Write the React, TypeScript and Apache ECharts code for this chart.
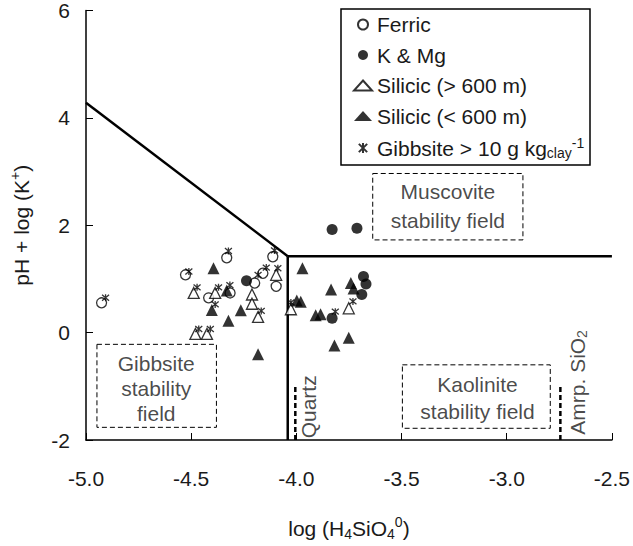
import React, { useEffect, useRef } from "react";
import * as echarts from "echarts";

const ferric: number[][] = [
  [-4.926, 0.556], [-4.527, 1.077], [-4.331, 1.394], [-4.112, 1.413], [-4.417, 0.648],
  [-4.315, 0.739], [-4.159, 1.106], [-4.198, 0.923], [-4.096, 0.862],
];
const kMg: number[][] = [
  [-4.237, 0.967], [-3.83, 1.921], [-3.712, 1.945], [-3.681, 1.046], [-3.669, 0.905],
  [-3.689, 0.71], [-3.83, 0.27],
];
const silicicHigh: number[][] = [
  [-4.488, 0.739], [-4.386, 0.739], [-4.48, -0.024], [-4.425, -0.024], [-4.211, 0.71],
  [-4.211, 0.538], [-4.182, 0.294], [-4.096, 1.077], [-4.026, 0.435], [-3.751, 0.453],
];
const silicicLow: number[][] = [
  [-4.394, 1.198], [-4.331, 0.783], [-4.402, 0.422], [-4.323, 0.22], [-4.264, 0.417],
  [-4.182, -0.404], [-3.971, 1.198], [-3.998, 0.6], [-3.979, 0.574], [-3.835, 0.802],
  [-3.741, 0.923], [-3.728, 0.82], [-3.908, 0.325], [-3.885, 0.343], [-3.819, -0.239],
  [-3.751, -0.097],
];
const gibbsite: number[][] = [
  [-4.907, 0.649], [-4.511, 1.138], [-4.472, 0.844], [-4.323, 1.52], [-4.104, 1.532],
  [-4.37, 0.844], [-4.316, 0.886], [-4.386, 0.526], [-4.464, 0.068], [-4.409, 0.068],
  [-4.143, 1.211], [-4.182, 1.077], [-4.088, 1.199], [-4.167, 0.404], [-4.026, 0.563],
  [-3.731, 0.582], [-3.815, 0.391],
];

// stability field boundaries
const gibbsiteMuscovite: number[][] = [[-5, 4.28], [-4.041, 1.424]];
const kaoliniteMuscovite: number[][] = [[-4.041, 1.424], [-2.5, 1.424]];
const gibbsiteKaolinite: number[][] = [[-4.041, 1.424], [-4.041, -2]];
const quartzLine: number[][] = [[-4.005, -2], [-4.005, -1.0]];
const amorphousLine: number[][] = [[-2.745, -2], [-2.745, -1.0]];

// dashed annotation boxes
const muscoviteBox: number[][] = [[-3.637, 2.964], [-2.923, 2.964], [-2.923, 1.727], [-3.637, 1.727], [-3.637, 2.964]];
const gibbsiteBox: number[][] = [[-4.948, -0.218], [-4.38, -0.218], [-4.38, -1.764], [-4.948, -1.764], [-4.948, -0.218]];
const kaoliniteBox: number[][] = [[-3.496, -0.6], [-2.793, -0.6], [-2.793, -1.782], [-3.496, -1.782], [-3.496, -0.6]];

const xTicks = [-5.0, -4.5, -4.0, -3.5, -3.0, -2.5];
const yTicks = [-2, 0, 2, 4, 6];

const FONT = "'Liberation Sans', Arial, sans-serif";
const FS = 21;
const SMALL = 14;
const INK = "#1a1a1a";
const STAR = "path://M0,0L10,10M10,0L0,10M5,-1L5,11";

export default function App() {
  const ref = useRef<HTMLDivElement>(null);
  useEffect(() => {
    if (!ref.current) return;
    const chart = echarts.init(ref.current, null, { renderer: "svg" });
    const lineSeries = (data: number[][], width: number, type: any) => ({
      type: "line",
      data,
      symbol: "none",
      silent: true,
      lineStyle: { color: "#000", width, type },
      z: 2,
    });
    const textSeries = (x: number, y: number, text: string, extra: any = {}) => ({
      type: "scatter",
      data: [[x, y]],
      symbolSize: 0,
      silent: true,
      label: {
        show: true,
        position: "inside",
        formatter: text,
        color: INK,
        fontSize: FS,
        fontFamily: FONT,
        lineHeight: 26,
        align: "center",
        verticalAlign: "middle",
        ...extra,
      },
      z: 3,
    });
    chart.setOption({
      animation: false,
      textStyle: { fontFamily: FONT },
      grid: { left: 86, right: 16, top: 10, bottom: 96 },
      graphic: [
        {
          type: "rect",
          shape: { x: 341, y: 9, width: 249, height: 156 },
          style: { fill: "#fff", stroke: "#000", lineWidth: 1.5 },
          z: 10,
        },
      ],
      legend: {
        orient: "vertical",
        left: 348,
        top: 9,
        itemGap: 9.5,
        itemWidth: 18,
        itemHeight: 10,
        z: 20,
        data: ["Ferric", "K & Mg", "Silicic (> 600 m)", "Silicic (< 600 m)", "Gibbsite"],
        formatter: (name: string) =>
          name === "Gibbsite" ? "{a|Gibbsite > 10 g kg}{sub|clay}{sup|-1}" : "{a|" + name + "}",
        textStyle: {
          fontFamily: FONT,
          rich: {
            a: { fontSize: FS, color: INK, fontFamily: FONT, lineHeight: 24 },
            sub: { fontSize: SMALL, color: INK, fontFamily: FONT, verticalAlign: "bottom", lineHeight: 14 },
            sup: { fontSize: SMALL, color: INK, fontFamily: FONT, verticalAlign: "top", lineHeight: 14 },
          },
        },
      },
      xAxis: {
        type: "value",
        min: -5,
        max: -2.5,
        interval: 0.5,
        name: "log (H{sub|4}SiO{sub|4}{sup|0})",
        nameLocation: "middle",
        nameGap: 75,
        nameTextStyle: {
          fontSize: FS,
          color: INK,
          fontFamily: FONT,
          rich: {
            sub: { fontSize: SMALL, color: INK, fontFamily: FONT, padding: [12, 0, 0, 0] },
            sup: { fontSize: SMALL, color: INK, fontFamily: FONT, padding: [0, 0, 12, 0] },
          },
        },
        axisLine: { onZero: false, lineStyle: { color: "#000", width: 1.5 } },
        axisTick: { inside: true, length: 7, lineStyle: { color: "#000", width: 1 } },
        axisLabel: {
          fontSize: FS,
          color: INK,
          fontFamily: FONT,
          margin: 28,
          formatter: (v: number) => (xTicks.some((t) => Math.abs(t - v) < 1e-9) ? v.toFixed(1) : ""),
        },
        splitLine: { show: false },
      },
      yAxis: {
        type: "value",
        min: -2,
        max: 6,
        interval: 2,
        name: "pH + log (K{sup|+})",
        nameLocation: "middle",
        nameRotate: 90,
        nameGap: 52,
        nameTextStyle: {
          fontSize: FS,
          color: INK,
          fontFamily: FONT,
          rich: {
            sup: { fontSize: SMALL, color: INK, fontFamily: FONT, padding: [0, 0, 12, 0] },
          },
        },
        axisLine: { onZero: false, lineStyle: { color: "#000", width: 1.5 } },
        axisTick: { inside: true, length: 7, lineStyle: { color: "#000", width: 1 } },
        axisLabel: {
          fontSize: FS,
          color: INK,
          fontFamily: FONT,
          margin: 16,
          formatter: (v: number) => (yTicks.includes(v) ? String(v) : ""),
        },
        splitLine: { show: false },
      },
      series: [
        lineSeries(gibbsiteMuscovite, 2.5, "solid"),
        lineSeries(kaoliniteMuscovite, 2.5, "solid"),
        lineSeries(gibbsiteKaolinite, 2.5, "solid"),
        lineSeries(quartzLine, 2.5, [5, 3]),
        lineSeries(amorphousLine, 2.5, [5, 3]),
        lineSeries(muscoviteBox, 1, [5, 3]),
        lineSeries(gibbsiteBox, 1, [5, 3]),
        lineSeries(kaoliniteBox, 1, [5, 3]),
        textSeries(-3.28, 2.364, "Muscovite\nstability field", { lineHeight: 29 }),
        textSeries(-4.666, -1.036, "Gibbsite\nstability\nfield", { lineHeight: 25 }),
        textSeries(-3.139, -1.209, "Kaolinite\nstability field", { lineHeight: 27 }),
        textSeries(-3.943, -1.382, "Quartz", { rotate: 90 }),
        textSeries(-2.664, -0.927, "{a|Amrp. SiO}{sub|2}", {
          rotate: 90,
          rich: {
            a: { fontSize: FS, color: INK, fontFamily: FONT },
            sub: { fontSize: SMALL, color: INK, fontFamily: FONT, padding: [10, 0, 0, 0] },
          },
        }),
        {
          name: "Ferric",
          type: "scatter",
          data: ferric,
          symbol: "circle",
          symbolSize: 10,
          itemStyle: { color: "#fff", borderColor: "#000", borderWidth: 1.3 },
          z: 5,
        },
        {
          name: "K & Mg",
          type: "scatter",
          data: kMg,
          symbol: "circle",
          symbolSize: 11,
          itemStyle: { color: "#000", borderColor: "#000", borderWidth: 0 },
          z: 5,
        },
        {
          name: "Silicic (> 600 m)",
          type: "scatter",
          data: silicicHigh,
          symbol: "triangle",
          symbolSize: 11,
          itemStyle: { color: "#fff", borderColor: "#000", borderWidth: 1.3 },
          z: 5,
        },
        {
          name: "Silicic (< 600 m)",
          type: "scatter",
          data: silicicLow,
          symbol: "triangle",
          symbolSize: 12,
          itemStyle: { color: "#000", borderColor: "#000", borderWidth: 0 },
          z: 5,
        },
        {
          name: "Gibbsite",
          type: "scatter",
          data: gibbsite,
          symbol: STAR,
          symbolSize: 7,
          itemStyle: { color: "none", borderColor: "#000", borderWidth: 1.3 },
          z: 6,
        },
      ],
    });
    return () => chart.dispose();
  }, []);
  return (
    <div
      ref={ref}
      style={{ position: "absolute", left: 0, top: 0, width: 633, height: 546 }}
    />
  );
}
